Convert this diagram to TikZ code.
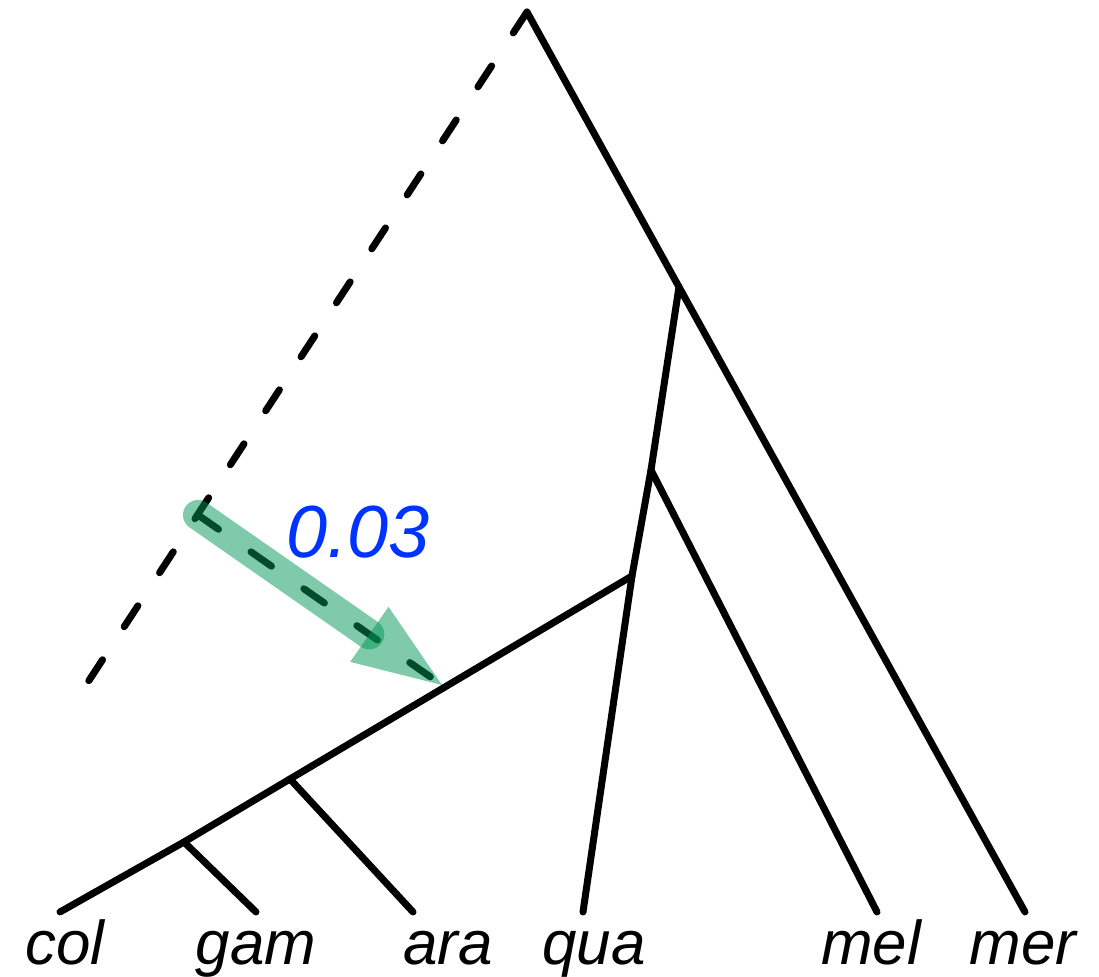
\documentclass[tikz,border=0pt]{standalone}
\usepackage{fontspec}
\setmainfont{Liberation Sans}
\usetikzlibrary{positioning,calc}
\definecolor{rateblue}{RGB}{0,51,255}
\definecolor{flowgreen}{RGB}{0,150,85}

\begin{document}
\begin{tikzpicture}[
    x=0.01cm, y=-0.01cm,
    branch/.style={draw=black, line width=0.07cm, line cap=round, line join=round},
    ghostbranch/.style={branch, dash pattern=on 0.25cm off 0.395cm},
    flowshaft/.style={draw=flowgreen, line width=0.3cm, line cap=round, opacity=0.5},
    flowhead/.style={fill=flowgreen, opacity=0.5},
    leaf/.style={font=\fontsize{17.6}{21}\selectfont\itshape, anchor=base, inner sep=0pt},
    ratelabel/.style={font=\fontsize{21}{25}\selectfont\itshape, text=rateblue,
                      anchor=base, inner sep=0pt},
]

\useasboundingbox (0,0) rectangle (1099,977);

% inner nodes
\coordinate (root) at (527,12);
\coordinate (n1)   at (679,287);
\coordinate (n2)   at (651,470);
\coordinate (n3)   at (632,576);
\coordinate (n4)   at (290,779);
\coordinate (n5)   at (184,842);
\coordinate (ghost) at (88,682);
\coordinate (src)  at (198,515);
\coordinate (dst)  at (442,685);

% tips
\coordinate (tcol) at (60,912);
\coordinate (tgam) at (256,912);
\coordinate (tara) at (413,912);
\coordinate (tqua) at (583,912);
\coordinate (tmel) at (877,912);
\coordinate (tmer) at (1025,912);

\draw[branch] (root) -- (n1) -- (tmer);
\draw[branch] (n1) -- (n2) -- (n3) -- (tqua);
\draw[branch] (n2) -- (tmel);
\draw[branch] (n3) -- (n4) -- (n5) -- (tcol);
\draw[branch] (n4) -- (tara);
\draw[branch] (n5) -- (tgam);

\draw[ghostbranch] (root) -- (ghost);
\draw[ghostbranch] (src) -- (dst);

% migration arrow
\coordinate (hb) at ($(dst)!0.885cm!(src)$);
\coordinate (hl) at ($(hb)!0.335cm!90:(dst)$);
\coordinate (hr) at ($(hb)!0.335cm!-90:(dst)$);
\draw[flowshaft] (src) -- (hb);
\fill[flowhead] (hl) -- (dst) -- (hr) -- cycle;

\node[ratelabel] (rate) at (358,558) {0.03};

\node[leaf] (col) at (65,965)  {col};
\node[leaf] (gam) at (256,965) {gam};
\node[leaf] (ara) at (448,965) {ara};
\node[leaf] (qua) at (594,965) {qua};
\node[leaf] (mel) at (871,965) {mel};
\node[leaf] (mer) at (1023,965) {mer};

\end{tikzpicture}
\end{document}
